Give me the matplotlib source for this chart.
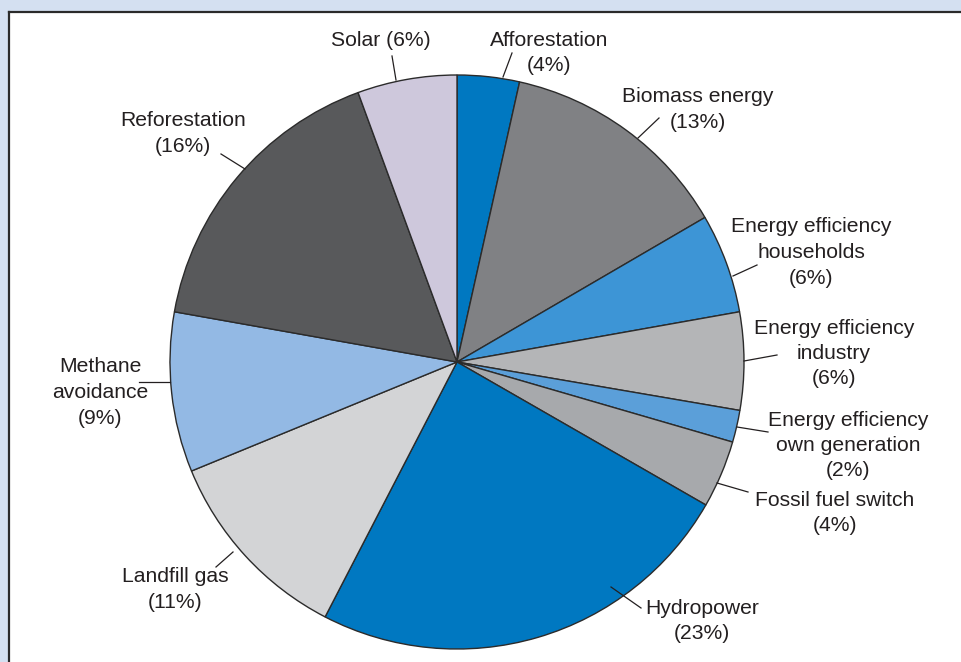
import matplotlib
matplotlib.use("Agg")
import matplotlib.pyplot as plt
from matplotlib.patches import Rectangle
from matplotlib.lines import Line2D

plt.rcParams['font.family'] = ['Liberation Sans', 'DejaVu Sans']

# ---- data ----
categories = ["Afforestation", "Biomass energy", "Energy efficiency\nhouseholds",
              "Energy efficiency\nindustry", "Energy efficiency\nown generation",
              "Fossil fuel switch", "Hydropower", "Landfill gas",
              "Methane\navoidance", "Reforestation", "Solar"]
shares = [3.5, 13.1, 5.6, 5.5, 1.8, 3.8, 24.3, 11.2, 9.0, 16.6, 5.6]
label_pct = [4, 13, 6, 6, 2, 4, 23, 11, 9, 16, 6]
colors = ["#0078c1", "#808184", "#3d95d6", "#b4b5b7", "#5b9fd9", "#a7a9ac",
          "#0078c1", "#d3d4d6", "#93b9e4", "#58595b", "#cec8dc"]

# ---- layout (pixel coords, y measured from top) ----
W, H = 962, 662
center_px = (457, 362)
radius_px = 287
# text centre (x, y_of_first_line) and leader (x0, y0, x1, y1)
text_pos = [(549, 40), (698, 97), (811, 227), (834, 328), (848, 420), (835, 500),
            (702, 608), (175, 577), (100, 367), (183, 121), (381, 40)]
leaders = [(503, 77, 512, 53), (638, 138, 659, 118), (733, 276, 757, 265),
           (744, 361, 777, 355), (737, 427, 768, 432), (717, 483, 748, 492),
           (611, 587, 641, 608), (233, 552, 216, 567), (170, 382, 139, 382),
           (245, 169, 221, 154), (396, 80, 392, 56)]
one_line = {10}
line_h = 25.5
fs = 15.2
tcolor = "#231f20"

fig = plt.figure(figsize=(W / 100, H / 100), dpi=100, facecolor="#d4e0f1")
# white panel with dark top/left border
fig.patches.append(Rectangle((9 / W, 0), 1.0, (H - 12) / H, transform=fig.transFigure,
                             facecolor="white", edgecolor="none", zorder=-5))
fig.lines.append(Line2D([9 / W, 9 / W], [0, (H - 12) / H], transform=fig.transFigure,
                        color="#2a2a2a", lw=1.6, zorder=-4))
fig.lines.append(Line2D([9 / W, 1], [(H - 12) / H, (H - 12) / H], transform=fig.transFigure,
                        color="#2a2a2a", lw=1.6, zorder=-4))

ax = fig.add_axes([0, 0, 1, 1])
ax.set_facecolor("none")
ax.pie(shares, colors=colors, startangle=90, counterclock=False,
       center=(center_px[0], H - center_px[1]), radius=radius_px,
       wedgeprops=dict(edgecolor="#2b2b2b", linewidth=1.0))
ax.set_xlim(0, W)
ax.set_ylim(0, H)
ax.set_aspect("auto")
ax.axis("off")

for i, (cat, pct) in enumerate(zip(categories, label_pct)):
    if i in one_line:
        lines = [f"{cat} ({pct}%)"]
    else:
        lines = cat.split("\n") + [f"({pct}%)"]
    tx, ty = text_pos[i]
    for k, ln in enumerate(lines):
        ax.text(tx, H - (ty + k * line_h), ln, ha="center", va="center",
                fontsize=fs, color=tcolor)
    x0, y0, x1, y1 = leaders[i]
    ax.plot([x0, x1], [H - y0, H - y1], color="#231f20", lw=0.9)

fig.savefig("out.png", dpi=100, facecolor=fig.get_facecolor())
